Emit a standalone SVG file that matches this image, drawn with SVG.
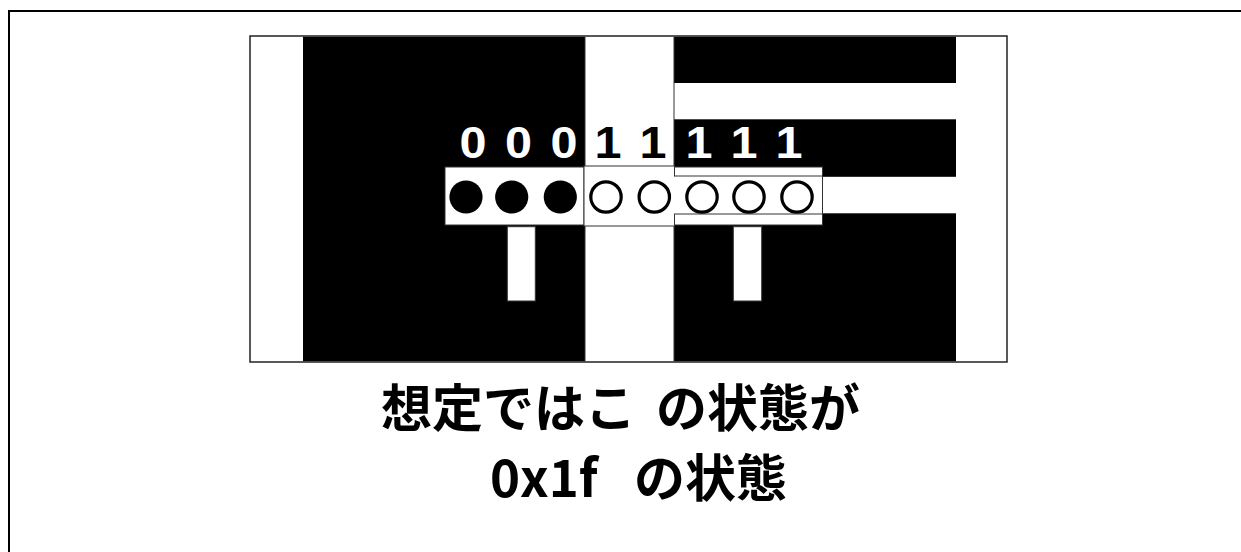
<svg xmlns="http://www.w3.org/2000/svg" width="1241" height="552" viewBox="0 0 1241 552">
<style>
.blk{fill:#000}
.wht{fill:#fff}
.edge{fill:#fff;stroke:#333;stroke-width:1}
.ln{stroke:#333;stroke-width:1;fill:none}
.dot{fill:#000}
.ring{fill:#fff;stroke:#000;stroke-width:3.2}
.dig{font-family:"Liberation Sans",Arial,sans-serif;font-weight:700;font-size:45px;text-anchor:middle}
.jp{font-family:"Noto Sans CJK JP",sans-serif;font-weight:700;font-size:51px;fill:#000}
</style>
<g id="frame">
<path d="M9 552 V11 H1241" fill="none" stroke="#000" stroke-width="2"/>
</g>
<g id="picture">
<rect x="250" y="36" width="757" height="326" fill="#fff" stroke="#222" stroke-width="1.5"/>
<rect class="blk" x="303" y="36.8" width="282" height="324.4"/>
<rect class="blk" x="674" y="36.8" width="282" height="46.2"/>
<rect class="blk" x="674" y="119.3" width="282" height="57.5"/>
<rect class="blk" x="674" y="213.3" width="282" height="147.9"/>
<line class="ln" x1="585" y1="36.8" x2="585" y2="361.2"/>
<line class="ln" x1="674" y1="36.8" x2="674" y2="361.2"/>
</g>
<g id="peg-left">
<rect class="edge" x="507.3" y="226.7" width="28" height="74.3"/>
</g>
<g id="peg-right">
<rect class="edge" x="733.3" y="226.7" width="28.4" height="74.3"/>
</g>
<g id="bits-000">
<rect class="edge" x="445" y="167" width="139" height="58"/>
<circle class="dot" cx="466" cy="197" r="16.6"/>
<circle class="dot" cx="511.7" cy="197" r="16.6"/>
<circle class="dot" cx="560.3" cy="197" r="16.6"/>
<text class="dig" x="473" y="157.5" fill="#fff" textLength="27" lengthAdjust="spacingAndGlyphs">0</text>
<text class="dig" x="518.5" y="157.5" fill="#fff" textLength="27" lengthAdjust="spacingAndGlyphs">0</text>
<text class="dig" x="564" y="157.5" fill="#fff" textLength="27" lengthAdjust="spacingAndGlyphs">0</text>
</g>
<g id="bits-11">
<rect class="edge" x="584" y="166" width="90.5" height="60"/>
<circle class="ring" cx="606" cy="197" r="15.2"/>
<circle class="ring" cx="654.3" cy="197" r="15.2"/>
<text class="dig" x="608" y="157.5" fill="#000" textLength="27" lengthAdjust="spacingAndGlyphs">1</text>
<text class="dig" x="653" y="157.5" fill="#000" textLength="27" lengthAdjust="spacingAndGlyphs">1</text>
</g>
<g id="bits-111">
<rect class="edge" x="674.5" y="167" width="148" height="58"/>
<rect class="wht" x="674" y="176.5" width="148" height="37.2"/>
<line class="ln" x1="674.5" y1="176" x2="822.5" y2="176"/>
<line class="ln" x1="674.5" y1="214" x2="822.5" y2="214"/>
<circle class="ring" cx="702" cy="197" r="15.2"/>
<circle class="ring" cx="749" cy="197" r="15.2"/>
<circle class="ring" cx="797" cy="197" r="15.2"/>
<text class="dig" x="699" y="157.5" fill="#fff" textLength="27" lengthAdjust="spacingAndGlyphs">1</text>
<text class="dig" x="744" y="157.5" fill="#fff" textLength="27" lengthAdjust="spacingAndGlyphs">1</text>
<text class="dig" x="789" y="157.5" fill="#fff" textLength="27" lengthAdjust="spacingAndGlyphs">1</text>
</g>
<g id="caption">
<text class="jp" x="381" y="427" xml:space="preserve">想定ではこ <tspan x="656">の状態が</tspan></text>
<text class="jp" x="490" y="497" xml:space="preserve">0x1f <tspan x="634">の状態</tspan></text>
</g>
</svg>
